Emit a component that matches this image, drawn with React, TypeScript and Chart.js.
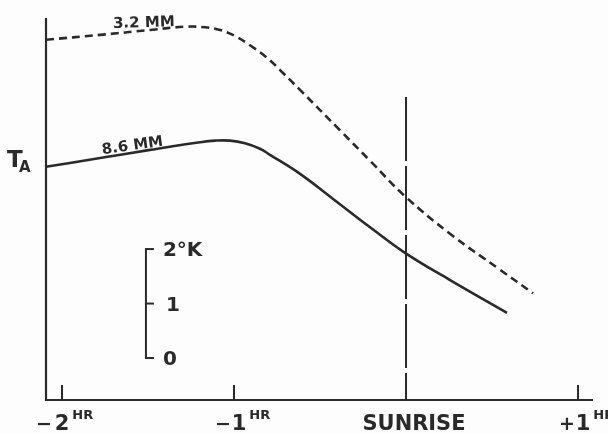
import { useEffect, useRef } from 'react';
import { Chart, registerables } from 'chart.js';

Chart.register(...registerables);

// ---- data (hours relative to sunrise, antenna temperature in °K above baseline) ----
const HOURS_32 = [-2.093, -1.779, -1.488, -1.285, -1.169, -1.081, -0.994, -0.907, -0.808, -0.715, -0.616, -0.384, -0.209, -0.006, 0.256, 0.547, 0.738];
const TA_32 = [6.61, 6.70, 6.79, 6.85, 6.84, 6.79, 6.68, 6.51, 6.28, 6.00, 5.69, 4.95, 4.39, 3.74, 3.05, 2.39, 1.96];
const HOURS_86 = [-2.093, -1.779, -1.488, -1.198, -1.110, -1.023, -0.936, -0.849, -0.791, -0.616, -0.424, -0.209, -0.006, 0.256, 0.587];
const TA_86 = [4.28, 4.44, 4.59, 4.73, 4.76, 4.76, 4.71, 4.61, 4.50, 4.15, 3.69, 3.17, 2.70, 2.20, 1.60];
const SERIES_NAMES = ['3.2 MM', '8.6 MM'];

const SUNRISE_HOUR = 0;
const SUNRISE_TOP = 5.56;

const TICK_HOURS = [-2, -1, 0, 1];
const TICK_PREFIX = ['−', '−', '', '+'];
const TICK_MAIN = ['2', '1', 'SUNRISE', '1'];
const TICK_SUP = ['HR', 'HR', '', 'HR'];

const SCALE_BAR_HOUR = -1.512;
const SCALE_BAR_BASE = 0.77;
const SCALE_BAR_VALUES = [0, 1, 2];
const SCALE_BAR_LABELS = ['0', '1', '2°K'];

const Y_LABEL = 'T';
const Y_LABEL_SUB = 'A';

const X_MIN = -2.093;
const X_MAX = 1.087;
const Y_MIN = 0;
const Y_MAX = 7.01;

const INK = '#2a2a2a';
const FONT = '"DejaVu Sans", sans-serif';

function fitText(ctx: CanvasRenderingContext2D, text: string, cx: number, y: number, width: number) {
  const w = ctx.measureText(text).width;
  ctx.save();
  ctx.translate(cx, y);
  ctx.scale(width / w, 1);
  ctx.textAlign = 'center';
  ctx.fillText(text, 0, 0);
  ctx.restore();
}

const decorPlugin = {
  id: 'decor',
  beforeDraw(chart: any) {
    const ctx = chart.ctx as CanvasRenderingContext2D;
    ctx.save();
    ctx.fillStyle = '#fdfdfd';
    ctx.fillRect(0, 0, chart.width, chart.height);
    ctx.restore();
  },
  beforeDatasetsDraw(chart: any) {
    const ctx = chart.ctx as CanvasRenderingContext2D;
    const xs = chart.scales.x;
    const ys = chart.scales.y;
    const area = chart.chartArea;
    const base = ys.getPixelForValue(0);
    ctx.save();
    ctx.strokeStyle = INK;
    ctx.lineWidth = 2.2;
    ctx.lineCap = 'butt';
    // axes
    ctx.beginPath();
    ctx.moveTo(area.left, area.top);
    ctx.lineTo(area.left, base);
    ctx.lineTo(area.right, base);
    ctx.stroke();
    // ticks
    ctx.lineWidth = 2;
    TICK_HOURS.forEach((h) => {
      const px = xs.getPixelForValue(h);
      ctx.beginPath();
      ctx.moveTo(px, base);
      ctx.lineTo(px, base - 15);
      ctx.stroke();
    });
    // scale bar
    const sx = xs.getPixelForValue(SCALE_BAR_HOUR);
    const yTop = ys.getPixelForValue(SCALE_BAR_BASE + SCALE_BAR_VALUES[SCALE_BAR_VALUES.length - 1]);
    const yBot = ys.getPixelForValue(SCALE_BAR_BASE + SCALE_BAR_VALUES[0]);
    ctx.beginPath();
    ctx.moveTo(sx, yTop);
    ctx.lineTo(sx, yBot);
    ctx.stroke();
    ctx.fillStyle = INK;
    SCALE_BAR_VALUES.forEach((v, i) => {
      const py = ys.getPixelForValue(SCALE_BAR_BASE + v);
      ctx.beginPath();
      ctx.moveTo(sx - 1, py);
      ctx.lineTo(sx + 8, py);
      ctx.stroke();
      ctx.font = `bold 20px ${FONT}`;
      ctx.textAlign = 'left';
      ctx.textBaseline = 'middle';
      const lx = SCALE_BAR_LABELS[i] === '1' ? sx + 20 : sx + 17;
      ctx.fillText(SCALE_BAR_LABELS[i], lx, py + 2);
    });
    ctx.restore();
  },
  afterDatasetsDraw(chart: any) {
    const ctx = chart.ctx as CanvasRenderingContext2D;
    const xs = chart.scales.x;
    ctx.save();
    ctx.fillStyle = INK;
    ctx.textBaseline = 'alphabetic';
    // x tick labels
    TICK_HOURS.forEach((h, i) => {
      const px = xs.getPixelForValue(h);
      const main = TICK_MAIN[i];
      if (!TICK_SUP[i]) {
        ctx.font = `bold 22px ${FONT}`;
        fitText(ctx, main, px + 8, 430, 103);
        return;
      }
      ctx.font = `bold 21px ${FONT}`;
      const wn = ctx.measureText(main).width;
      const cx = main === '1' ? px + 5 : px;
      ctx.textAlign = 'center';
      ctx.fillText(main, cx, 430);
      if (TICK_PREFIX[i]) {
        ctx.font = `bold 19px ${FONT}`;
        ctx.textAlign = 'right';
        ctx.fillText(TICK_PREFIX[i], cx - (main === '1' ? 8 : 10), 430);
      }
      ctx.font = `bold 13px ${FONT}`;
      ctx.textAlign = 'left';
      ctx.fillText(TICK_SUP[i], cx + wn / 2 + 3, 419);
    });
    // y label
    ctx.font = `bold 23px ${FONT}`;
    ctx.textAlign = 'left';
    ctx.fillText(Y_LABEL, 7, 167);
    ctx.font = `bold 15px ${FONT}`;
    ctx.fillText(Y_LABEL_SUB, 19, 172);
    // series labels
    ctx.font = `bold 15px ${FONT}`;
    ctx.textAlign = 'center';
    ctx.save();
    ctx.translate(144, 27);
    ctx.rotate(-0.03);
    ctx.fillText(SERIES_NAMES[0], 0, 0);
    ctx.restore();
    ctx.save();
    ctx.translate(133, 150);
    ctx.rotate(-0.14);
    ctx.fillText(SERIES_NAMES[1], 0, 0);
    ctx.restore();
    ctx.restore();
  },
};

export default function App() {
  const ref = useRef<HTMLCanvasElement | null>(null);
  useEffect(() => {
    if (!ref.current) return;
    const chart = new Chart(ref.current, {
      type: 'line',
      data: {
        datasets: [
          {
            label: SERIES_NAMES[0],
            data: HOURS_32.map((x, i) => ({ x, y: TA_32[i] })),
            borderColor: INK,
            borderWidth: 2.6,
            borderDash: [8, 5],
            pointRadius: 0,
            tension: 0.4,
            fill: false,
            clip: false as any,
          },
          {
            label: SERIES_NAMES[1],
            data: HOURS_86.map((x, i) => ({ x, y: TA_86[i] })),
            borderColor: INK,
            borderWidth: 2.6,
            pointRadius: 0,
            tension: 0.4,
            fill: false,
            clip: false as any,
          },
          {
            label: 'SUNRISE',
            data: [
              { x: SUNRISE_HOUR, y: SUNRISE_TOP },
              { x: SUNRISE_HOUR, y: 0 },
            ],
            borderColor: INK,
            borderWidth: 2,
            borderDash: [64, 5],
            pointRadius: 0,
            fill: false,
            clip: false as any,
          },
        ],
      },
      options: {
        animation: false,
        responsive: false,
        maintainAspectRatio: false,
        layout: { padding: { left: 46, right: 15, top: 18, bottom: 34 } },
        plugins: { legend: { display: false }, tooltip: { enabled: false } },
        scales: {
          x: { type: 'linear', min: X_MIN, max: X_MAX, display: false },
          y: { type: 'linear', min: Y_MIN, max: Y_MAX, display: false },
        },
      },
      plugins: [decorPlugin],
    });
    return () => chart.destroy();
  }, []);
  return (
    <div style={{ position: 'fixed', left: 0, top: 0, width: 608, height: 434, background: '#fdfdfd' }}>
      <canvas ref={ref} width={608} height={434} style={{ display: 'block', width: 608, height: 434 }} />
    </div>
  );
}
